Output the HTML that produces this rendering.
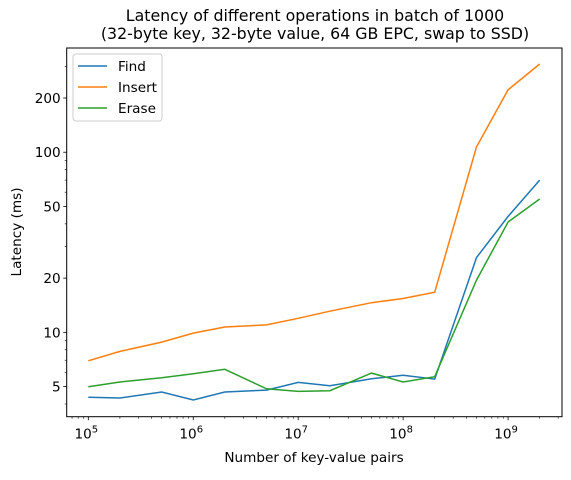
<!DOCTYPE html>
<html><head><meta charset="utf-8"><style>
body{margin:0;background:#fff;}
svg text{font-family:"DejaVu Sans","Liberation Sans",sans-serif;fill:#000;}
</style></head><body>
<svg id="chart" width="571" height="475">
<text x="315" y="21" font-size="15.8" text-anchor="middle">Latency of different operations in batch of 1000</text>
<text x="315" y="39" font-size="15.8" text-anchor="middle">(32-byte key, 32-byte value, 64 GB EPC, swap to SSD)</text>
<g id="axes"></g>
<g id="series"></g>
<rect x="66.7" y="48" width="495.3" height="368.7" fill="none" stroke="#000" stroke-width="1"/>
<text x="314" y="462" font-size="13.6" text-anchor="middle">Number of key-value pairs</text>
<text transform="translate(21,232) rotate(-90)" font-size="13.6" text-anchor="middle">Latency (ms)</text>
<g>
<rect x="73" y="54" width="89" height="67" rx="3" fill="#fff" stroke="#ccc"/>
<line x1="78" y1="66" x2="107" y2="66" stroke="#1f77b4" stroke-width="1.5"/>
<text x="118" y="71" font-size="13.6">Find</text>
<line x1="78" y1="87" x2="107" y2="87" stroke="#ff7f0e" stroke-width="1.5"/>
<text x="118" y="92" font-size="13.6">Insert</text>
<line x1="78" y1="108" x2="107" y2="108" stroke="#2ca02c" stroke-width="1.5"/>
<text x="118" y="113" font-size="13.6">Erase</text>
</g>
</svg>
<script>
const xs=[1e5,2e5,5e5,1e6,2e6,5e6,1e7,2e7,5e7,1e8,2e8,5e8,1e9,2e9];
const findVals=[4.36,4.32,4.66,4.21,4.66,4.78,5.27,5.05,5.52,5.77,5.5,26,44,70];
const insertVals=[6.95,7.84,8.83,9.9,10.7,11.0,11.96,13.1,14.6,15.4,16.7,107,222,309];
const eraseVals=[4.99,5.3,5.6,5.89,6.23,4.86,4.7,4.74,5.94,5.3,5.67,19.5,41,55];
const yTickVals=[5,10,20,50,100,200];
const yTickLabels=["5","10","20","50","100","200"];
const xTickExps=[5,6,7,8,9];
const NS="http://www.w3.org/2000/svg";
const L=66.7,R=562,T=48,B=416.7;
const xmin=4.794,xmax=9.514,ymin=Math.log10(3.4),ymax=Math.log10(379);
const X=v=>L+(Math.log10(v)-xmin)/(xmax-xmin)*(R-L);
const Y=v=>B-(Math.log10(v)-ymin)/(ymax-ymin)*(B-T);
function mk(tag,attrs,parent){const e=document.createElementNS(NS,tag);for(const k in attrs)e.setAttribute(k,attrs[k]);parent.appendChild(e);return e;}
const axes=document.getElementById('axes');
yTickVals.forEach((v,i)=>{const y=Y(v);
const t=mk('line',{x1:L-3.5,x2:L,y1:y,y2:y,stroke:'#000','stroke-width':0.8},axes);


const tx=mk('text',{x:L-6,y:y+5,'font-size':13.6,'text-anchor':'end'},axes);tx.textContent=yTickLabels[i];

});
for(let d=0;d<3;d++)for(let m=1;m<10;m++){const v=m*Math.pow(10,d);if(Math.log10(v)<ymin||Math.log10(v)>ymax)continue;if(yTickVals.includes(v))continue;const y=Y(v);
const t=mk('line',{x1:L-2,x2:L,y1:y,y2:y,stroke:'#000','stroke-width':0.6},axes);

}
xTickExps.forEach(e=>{const x=X(Math.pow(10,e));
const t=mk('line',{x1:x,x2:x,y1:B,y2:B+3.5,stroke:'#000','stroke-width':0.8},axes);


const tx=mk('text',{x:x-2,y:B+22,'font-size':13.6,'text-anchor':'middle'},axes);
tx.innerHTML='10<tspan dy="-6" font-size="10">'+e+'</tspan>';

});
for(let e=4;e<10;e++)for(let m=2;m<10;m++){const v=m*Math.pow(10,e);const lv=Math.log10(v);if(lv<xmin||lv>xmax)continue;const x=X(v);
const t=mk('line',{x1:x,x2:x,y1:B,y2:B+2,stroke:'#000','stroke-width':0.6},axes);

}
const ser=document.getElementById('series');
[[findVals,'#1f77b4','find-line'],[insertVals,'#ff7f0e','insert-line'],[eraseVals,'#2ca02c','erase-line']].forEach(([vals,c,n])=>{
const p=mk('polyline',{points:xs.map((x,i)=>X(x).toFixed(1)+','+Y(vals[i]).toFixed(1)).join(' '),fill:'none',stroke:c,'stroke-width':1.5},ser);

});
</script>
</body></html>
